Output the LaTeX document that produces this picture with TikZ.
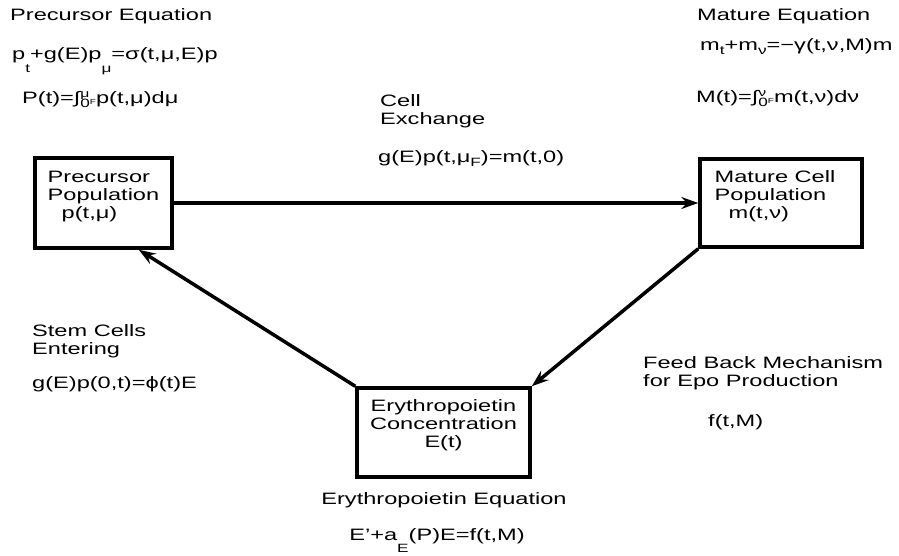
\documentclass[tikz,border=0pt]{standalone}
\usepackage{fontspec}
\setmainfont[FakeStretch=1.43]{Liberation Sans}
\usetikzlibrary{arrows.meta}

\newcommand{\subtxt}[2]{\raisebox{-#1pt}{\fontsize{12}{12}\selectfont #2}}
\newcommand{\intlim}[1]{∫\rlap{\raisebox{6pt}{\fontsize{11}{11}\selectfont #1}}\raisebox{-4pt}{\fontsize{12}{12}\selectfont 0}\raisebox{-1pt}{\fontsize{7}{7}\selectfont F}}

\tikzset{
  lbl/.style={anchor=base west, inner sep=0pt, align=left, font=\fontsize{16.5}{18}\selectfont},
  box/.style={draw, line width=3.5pt, inner sep=0pt},
  arr/.style={-{Stealth[length=17pt, width=12pt, inset=6pt]}, line width=3.5pt}
}

\begin{document}
\begin{tikzpicture}[x=1pt, y=-1pt]
            \useasboundingbox (0,0) rectangle (899,556);

            % Boxes
            \node[box, minimum width=137pt, minimum height=90pt] (pre) at (103.5,203) {};
            \node[box, minimum width=162pt, minimum height=88pt] (mat) at (781,203) {};
            \node[box, minimum width=173pt, minimum height=89pt] (epo) at (443.5,432.5) {};

            % Box texts
            \node[lbl, anchor=center] (pretxt) at ([yshift=6pt]pre.center)
                {Precursor\\Population\\\hspace*{14pt}p(t,μ)};
            \node[lbl, anchor=center] (mattxt) at ([xshift=-6pt, yshift=7pt]mat.center)
                {Mature Cell\\Population\\\hspace*{14pt}m(t,ν)};
            \node[lbl, anchor=center, align=center] (epotxt) at ([yshift=7pt]epo.center)
                {Erythropoietin\\Concentration\\E(t)};

            % Equations and labels
            \node[lbl] (preeq) at (10,21) {Precursor Equation};
            \node[lbl] (prepde) at (12,60) {p\subtxt{13}{t}+g(E)p\subtxt{13}{μ}=σ(t,μ,E)p};
            \node[lbl] (preint) at (22,104) {P(t)=\intlim{μ}p(t,μ)dμ};

            \node[lbl] (mateq) at (697,21) {Mature Equation};
            \node[lbl] (matpde) at (700,51) {m\subtxt{4}{t}+m\subtxt{4}{ν}=−γ(t,ν,M)m};
            \node[lbl] (matint) at (696,103) {M(t)=\intlim{ν}m(t,ν)dν};

            \node[lbl] (cellx) at (380,125) {Cell\\Exchange};
            \node[lbl] (cellxeq) at (378,163) {g(E)p(t,μ\subtxt{4}{F})=m(t,0)};

            \node[lbl] (stem) at (32,354) {Stem Cells\\Entering};
            \node[lbl] (stemeq) at (32,388) {g(E)p(0,t)=ϕ(t)E};

            \node[lbl] (feed) at (643,386) {Feed Back Mechanism\\for Epo Production};
            \node[lbl] (feedeq) at (708,426) {f(t,M)};

            \node[lbl, anchor=base] (epoeq) at (444,504) {Erythropoietin Equation};
            \node[lbl, anchor=base] (epopde) at (437,540) {E’+a\subtxt{12}{E}(P)E=f(t,M)};

            % Arrows
            \draw[arr] (pre) -- (mat);
            \draw[arr] (mat.south west) -- (epo.north east);
            \draw[arr] (epo.north west) -- ([xshift=-35pt]pre.south east);
        \end{tikzpicture}
\end{document}
